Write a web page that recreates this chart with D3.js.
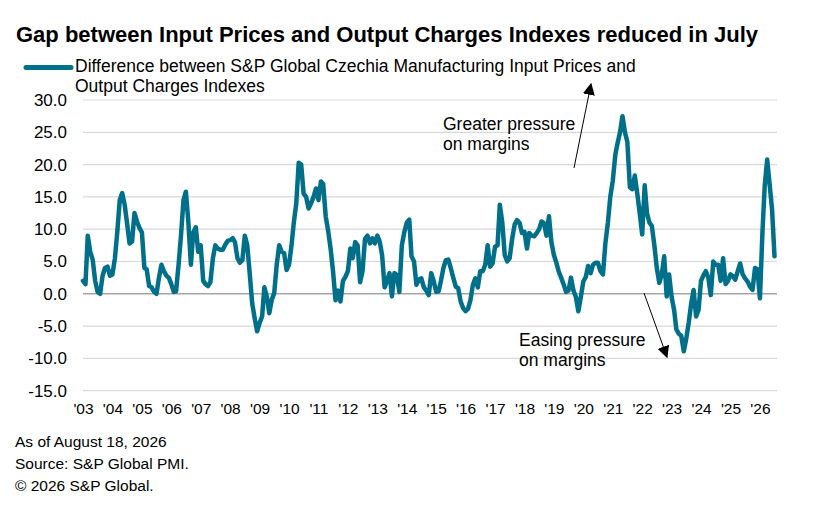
<!DOCTYPE html>
<html>
<head>
<meta charset="utf-8">
<script src="https://cdn.jsdelivr.net/npm/d3@7"></script>
<style>
  body { margin: 0; background: #fff; }
  text { font-family: Arial, "Liberation Sans", sans-serif; fill: #000; }
</style>
</head>
<body>
<script>
var width = 833;
var height = 520;

var startMonth = new Date(2003, 0, 1);
var axisEnd = new Date(2026, 7, 1);

// monthly gap, Jan 2003 .. Jul 2026
var gapValues = [
	2.0, 1.5, 9.0, 6.5, 5.3, 2.0, 0.3, 0.0, 2.8, 4.0, 4.2, 2.8,        // 2003
	3.0, 5.5, 9.5, 14.5, 15.6, 13.8, 10.9, 7.8, 8.1, 12.5, 11.2, 10.2, // 2004
	9.5, 4.0, 3.8, 1.2, 1.0, 0.3, 0.0, 2.5, 4.5, 3.5, 2.8, 2.5,        // 2005
	1.5, 0.3, 0.4, 4.5, 9.0, 14.5, 15.8, 11.0, 4.5, 9.5, 10.3, 6.5,    // 2006
	7.5, 2.0, 1.5, 1.2, 1.8, 5.5, 7.5, 7.0, 6.8, 6.8, 7.6, 8.2,        // 2007
	8.3, 8.6, 8.0, 5.5, 4.8, 5.2, 9.0, 7.5, 3.0, -1.5, -3.8, -5.8,     // 2008
	-4.5, -3.5, 1.0, -0.5, -3.0, -0.9, 0.1, 4.5, 7.5, 6.5, 6.3, 3.7,   // 2009
	4.5, 7.5, 11.0, 14.0, 20.3, 20.0, 15.5, 15.0, 13.2, 14.0, 15.0, 16.3, // 2010
	14.5, 17.4, 17.0, 12.0, 9.8, 7.0, 3.5, -1.0, 0.5, -1.2, 2.0, 2.6,  // 2011
	3.5, 7.0, 5.5, 8.0, 7.5, 1.8, 3.5, 8.5, 9.0, 7.8, 8.6, 7.8,        // 2012
	9.0, 8.0, 6.0, 1.0, 2.0, 3.2, -0.4, 3.2, 2.9, 0.3, 7.5, 9.5,       // 2013
	11.0, 11.5, 5.8, 5.0, 1.4, 2.2, 2.4, 1.0, 0.5, -0.2, 3.2, 2.0,     // 2014
	0.3, 0.4, 2.0, 4.0, 5.2, 5.3, 4.0, 2.5, 1.1, 0.9, -1.2, -2.2,      // 2015
	-2.7, -2.3, -1.0, 1.4, 2.4, 1.0, 3.5, 3.5, 4.5, 7.5, 4.2, 4.7,     // 2016
	7.3, 7.5, 13.8, 11.0, 6.0, 5.0, 5.5, 8.5, 10.7, 11.4, 11.0, 9.4,   // 2017
	9.6, 7.0, 9.4, 9.0, 8.9, 9.4, 10.0, 11.2, 10.9, 9.0, 12.0, 8.0,    // 2018
	6.0, 4.8, 3.5, 2.5, 1.5, 0.3, 0.5, 2.5, 0.5, -0.5, -2.7, -0.5,     // 2019
	1.9, 2.6, 4.3, 3.2, 4.5, 4.8, 4.8, 3.5, 3.0, 7.8, 11.0, 15.0,      // 2020
	17.5, 21.5, 23.3, 25.0, 27.5, 25.0, 23.5, 16.5, 16.2, 18.3, 15.5, 12.5, // 2021
	9.2, 16.8, 12.5, 11.0, 10.5, 7.5, 4.0, 1.7, 3.0, 5.8, -0.4, 3.0,   // 2022
	-0.5, -2.5, -5.5, -6.2, -6.5, -8.9, -7.0, -4.5, -1.5, 0.6, -3.5, -2.5, // 2023
	2.0, 2.9, 3.5, 2.5, -0.2, 5.0, 4.5, 4.5, 2.0, 5.5, 1.5, 2.0,       // 2024
	3.0, 2.7, 2.2, 3.5, 4.7, 3.0, 2.4, 1.9, 1.1, 0.6, 4.0, 3.8,        // 2025
	-0.7, 9.4, 16.6, 20.8, 17.0, 13.0, 5.8                             // 2026
];

var yTicks = [-15, -10, -5, 0, 5, 10, 15, 20, 25, 30];
var yearTicks = d3.range(2003, 2027);

var titleText = "Gap between Input Prices and Output Charges Indexes reduced in July";
var legendLines = ["Difference between S&P Global Czechia Manufacturing Input Prices and", "Output Charges Indexes"];
var upperNote = ["Greater pressure", "on margins"];
var lowerNote = ["Easing pressure", "on margins"];
var footerLines = ["As of August 18, 2026", "Source: S&P Global PMI.", "\u00A9 2026 S&P Global."];

var lineColor = "#00708a";
var fontStack = "Arial, 'Liberation Sans', sans-serif";

var series = gapValues.map((v, i) => ({ date: d3.timeMonth.offset(startMonth, i), value: v }));

var svg = d3.select("body").append("svg")
		.attr("width", width)
		.attr("height", height)

var xScale = d3.scaleTime()
	.domain([startMonth, axisEnd])
	.range([83, 777])

var yScale = d3.scaleLinear()
	.domain([-15, 30])
	.range([390.7, 100])

// title
svg.append("text")
		.attr("x", 16)
		.attr("y", 42)
		.style("font-size", "22px")
		.style("font-weight", "bold")
		.text(titleText)

// legend
svg.append("line")
		.attr("x1", 26)
		.attr("x2", 71)
		.attr("y1", 67.5)
		.attr("y2", 67.5)
		.attr("stroke", lineColor)
		.attr("stroke-width", 5)
		.attr("stroke-linecap", "round")

svg.selectAll(".legendText")
	.data(legendLines)
	.enter().append("text")
		.attr("class", "legendText")
		.attr("x", 75)
		.attr("y", (d, i) => 72 + i * 20)
		.style("font-size", "17.5px")
		.text(d => d)

// gridlines
svg.append("g")
		.attr("class", "grid")
	.selectAll("line")
	.data(yTicks)
	.enter().append("line")
		.attr("x1", xScale.range()[0])
		.attr("x2", xScale.range()[1])
		.attr("y1", d => yScale(d))
		.attr("y2", d => yScale(d))
		.attr("stroke", d => d === 0 ? "#a6a6a6" : "#d9d9d9")
		.attr("stroke-width", d => d === 0 ? 1.5 : 1.2)

// y axis labels (plain hyphen for negatives, like the original)
var yAxis = svg.append("g")
	.attr("transform", "translate(67,0)")
	.call(d3.axisLeft(yScale).tickValues(yTicks).tickSize(0).tickPadding(0).tickFormat(d => d.toFixed(1)))
yAxis.select(".domain").remove()
yAxis.selectAll("text")
		.style("font-size", "17px")
		.style("font-family", fontStack)
		.attr("fill", "#000")

// x axis labels
var xAxis = svg.append("g")
	.attr("transform", "translate(0," + 400 + ")")
	.call(d3.axisBottom(xScale)
		.tickValues(yearTicks.map(y => new Date(y, 0, 1)))
		.tickSize(0)
		.tickPadding(3)
		.tickFormat(d => "'" + d3.timeFormat("%y")(d)))
xAxis.select(".domain").remove()
xAxis.selectAll("text")
		.style("font-size", "15.5px")
		.style("font-family", fontStack)
		.attr("fill", "#000")

// the series
var lineGenerator = d3.line()
	.x(d => xScale(d.date))
	.y(d => yScale(d.value))

svg.append("path")
		.datum(series)
		.attr("fill", "none")
		.attr("stroke", lineColor)
		.attr("stroke-width", 4.5)
		.attr("stroke-linejoin", "round")
		.attr("stroke-linecap", "round")
		.attr("d", lineGenerator)

// annotations
var defs = svg.append("defs")
defs.append("marker")
		.attr("id", "arrowHead")
		.attr("viewBox", "0 0 10 10")
		.attr("refX", 9)
		.attr("refY", 5)
		.attr("markerWidth", 12)
		.attr("markerHeight", 12)
		.attr("markerUnits", "userSpaceOnUse")
		.attr("orient", "auto")
	.append("path")
		.attr("d", "M0,0 L10,5 L0,10 Z")
		.attr("fill", "#000")

svg.append("line")
		.attr("x1", 574).attr("y1", 168)
		.attr("x2", 591).attr("y2", 84)
		.attr("stroke", "#000")
		.attr("stroke-width", 1)
		.attr("marker-end", "url(#arrowHead)")

svg.append("line")
		.attr("x1", 644).attr("y1", 293)
		.attr("x2", 667).attr("y2", 357)
		.attr("stroke", "#000")
		.attr("stroke-width", 1)
		.attr("marker-end", "url(#arrowHead)")

svg.selectAll(".upperNote")
	.data(upperNote)
	.enter().append("text")
		.attr("class", "upperNote")
		.attr("x", 443)
		.attr("y", (d, i) => 130 + i * 20)
		.style("font-size", "17.5px")
		.text(d => d)

svg.selectAll(".lowerNote")
	.data(lowerNote)
	.enter().append("text")
		.attr("class", "lowerNote")
		.attr("x", 519)
		.attr("y", (d, i) => 346 + i * 20)
		.style("font-size", "17.5px")
		.text(d => d)

// footer
svg.selectAll(".footer")
	.data(footerLines)
	.enter().append("text")
		.attr("class", "footer")
		.attr("x", 15)
		.attr("y", (d, i) => 447 + i * 22)
		.style("font-size", "15.5px")
		.text(d => d)
</script>
</body>
</html>
